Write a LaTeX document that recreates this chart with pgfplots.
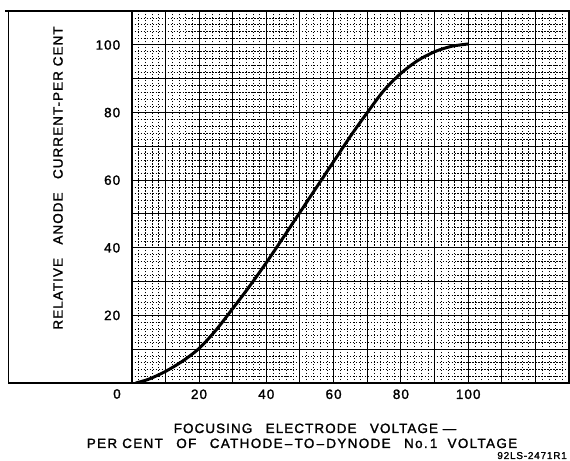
\documentclass[border=0pt]{standalone}
\usepackage{pgfplots}
\pgfplotsset{compat=1.18}
\usepackage{fontspec}
\setmainfont{Liberation Sans}
\newfontfamily\lab{Liberation Sans}[LetterSpace=8, FakeBold=1.6]
\newfontfamily\labw{Liberation Sans}[LetterSpace=10, FakeBold=1.6]
\begin{document}
\begin{tikzpicture}[x=1bp,y=1bp]
\useasboundingbox (0,0) rectangle (570,461);
\begin{axis}[
  at={(131.7bp,78bp)}, anchor=origin,
  x=3.365bp, y=3.38bp,
  xmin=0, xmax=130, ymin=0, ymax=110,
  clip=true,
  axis line style={black, line width=1.6pt},
  xtick={0,10,...,130},
  xticklabels={,,20,,40,,60,,80,,100,,,},
  ytick={0,10,...,110},
  yticklabels={,,20,,40,,60,,80,,100,},
  minor x tick num=4, minor y tick num=4,
  major tick length=0pt, minor tick length=0pt,
  grid=both,
  major grid style={black, line width=1pt},
  minor grid style={black, line width=0.6pt, dash pattern=on 1.4pt off 1.6pt},
  /pgf/number format/assume math mode=true,
  ticklabel style={font=\lab\fontsize{13.5}{13.5}\selectfont},
  xticklabel style={yshift=-3bp},
  yticklabel style={xshift=-8bp},
]
\addplot[black, line width=3pt, smooth] coordinates {
(1.2,0) (5,1.1) (10,3.4) (15,6.4) (20,10.2) (25,15.6) (30,22) (35,28.6)
(40,35.6) (45,43) (50,50.5) (55,58) (60,65.5) (65,73) (70,80) (75,86.6)
(80,91.6) (85,95.4) (90,98) (95,99.6) (100,100.3)
};
\end{axis}
% extended frame around the label area
\draw[black, line width=1.4pt] (5,450) -- (569,450);
\draw[black, line width=1.4pt] (8.5,450) -- (8.5,78) -- (131.7,78);
\node[font=\lab\fontsize{13.5}{13.5}\selectfont] at (117,67) {0};
\node[rotate=90, font=\lab\fontsize{13.5}{13.5}\selectfont] at (58,283) {RELATIVE\quad ANODE\quad CURRENT-PER\ CENT};
\node[anchor=base, font=\lab\fontsize{13.5}{13.5}\selectfont] at (315,28) {FOCUSING\quad ELECTRODE\quad VOLTAGE\ —};
\node[anchor=base, font=\labw\fontsize{13.5}{13.5}\selectfont] at (302,13) {PER\ CENT\quad OF\quad CATHODE\,–\,TO\,–\,DYNODE\quad No.\,1\ \ VOLTAGE};
\node[anchor=base east, font=\lab\fontsize{10}{10}\selectfont, inner sep=0pt] at (567,2) {92LS-2471R1};
\end{tikzpicture}
\end{document}
